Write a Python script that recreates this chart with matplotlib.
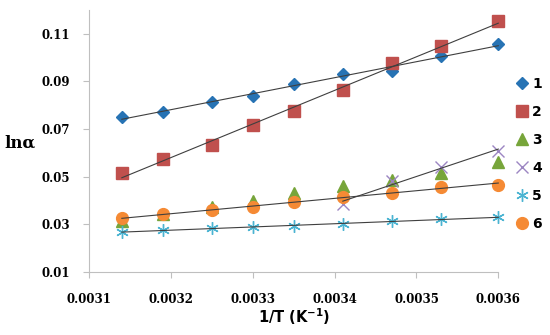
import numpy as np
import matplotlib.pyplot as plt

# 1/T values (K^-1)
x = [0.00314, 0.00319, 0.00325, 0.00330, 0.00335, 0.00341, 0.00347, 0.00353, 0.00360]

s1 = [0.0749, 0.0771, 0.0814, 0.0839, 0.0891, 0.0931, 0.0945, 0.1005, 0.1057]
s2 = [0.0514, 0.0573, 0.0634, 0.0718, 0.0778, 0.0863, 0.0977, 0.1047, 0.1152]
s3 = [0.0315, 0.0345, 0.0372, 0.0397, 0.0430, 0.0461, 0.0486, 0.0517, 0.0562]
x4 = [0.00341, 0.00347, 0.00353, 0.00360]
s4 = [0.0385, 0.0482, 0.0541, 0.0608]
s5 = [0.0266, 0.0277, 0.0283, 0.0290, 0.0294, 0.0300, 0.0315, 0.0322, 0.0329]
s6 = [0.0326, 0.0343, 0.0359, 0.0371, 0.0394, 0.0417, 0.0433, 0.0457, 0.0467]

labels = ['1', '2', '3', '4', '5', '6']
xticks = [0.0031, 0.0032, 0.0033, 0.0034, 0.0035, 0.0036]
yticks = [0.01, 0.03, 0.05, 0.07, 0.09, 0.11]

fig = plt.figure(figsize=(5.5, 3.35), dpi=100)
ax = fig.add_axes([0.162, 0.188, 0.744, 0.782])

trend = '#3f3f3f'

def fit(xs, ys):
    p = np.polyfit(xs, ys, 1)
    ax.plot([xs[0], xs[-1]], np.polyval(p, [xs[0], xs[-1]]), color=trend, lw=0.8,
            zorder=3, clip_on=False)

fit(x, s1)
fit(x, s2)
fit(x4, s4)
fit(x, s5)
fit(x, s6)

kw = dict(ls='none', zorder=2, clip_on=False)
ax.plot(x, s1, 'D', color='#2773b4', ms=6.5, label=labels[0], **kw)
ax.plot(x, s2, 's', color='#c0504d', ms=8.5, label=labels[1], **kw)
ax.plot(x, s3, '^', color='#77a53a', ms=8, label=labels[2], **kw)
ax.plot(x4, s4, 'x', color='#9c86c2', ms=9, mew=1, label=labels[3], **kw)
ax.plot(x, s5, marker=(6, 2, 0), color='#4bb4d2', ms=9, mew=1, label=labels[4], **kw)
ax.plot(x, s6, 'o', color='#f58a34', ms=8.5, label=labels[5], **kw)

ax.set_xlim(0.0031, 0.0036)
ax.set_ylim(0.01, 0.12)
ax.set_xticks(xticks)
ax.set_yticks(yticks)
ax.set_xticklabels(['%.4f' % v for v in xticks], fontfamily='DejaVu Serif',
                   fontweight='bold', fontsize=8.5)
ax.set_yticklabels(['%.2f' % v for v in yticks], fontfamily='DejaVu Serif',
                   fontweight='bold', fontsize=8.5)
ax.tick_params(axis='x', length=4, color='#bfbfbf', pad=11)
ax.tick_params(axis='y', length=4, color='#bfbfbf', pad=10)

for side in ['top', 'right']:
    ax.spines[side].set_visible(False)
for side in ['left', 'bottom']:
    ax.spines[side].set_color('#bfbfbf')

ax.set_xlabel('1/T (K$^{\\mathbf{-1}}$)', fontsize=10.5, fontweight='bold', labelpad=0)
ax.xaxis.set_label_coords(0.5, -0.13)
ax.set_ylabel('ln\u03b1', fontsize=12, fontweight='bold', fontfamily='DejaVu Serif',
              rotation=0)
ax.yaxis.set_label_coords(-0.17, 0.46)

leg = ax.legend(loc='upper left', bbox_to_anchor=(1.035, 0.765), frameon=False,
                prop={'weight': 'bold', 'size': 10}, handlelength=0.6,
                handletextpad=0.4, labelspacing=1.0, borderaxespad=0)

fig.savefig('out.png', dpi=100)
